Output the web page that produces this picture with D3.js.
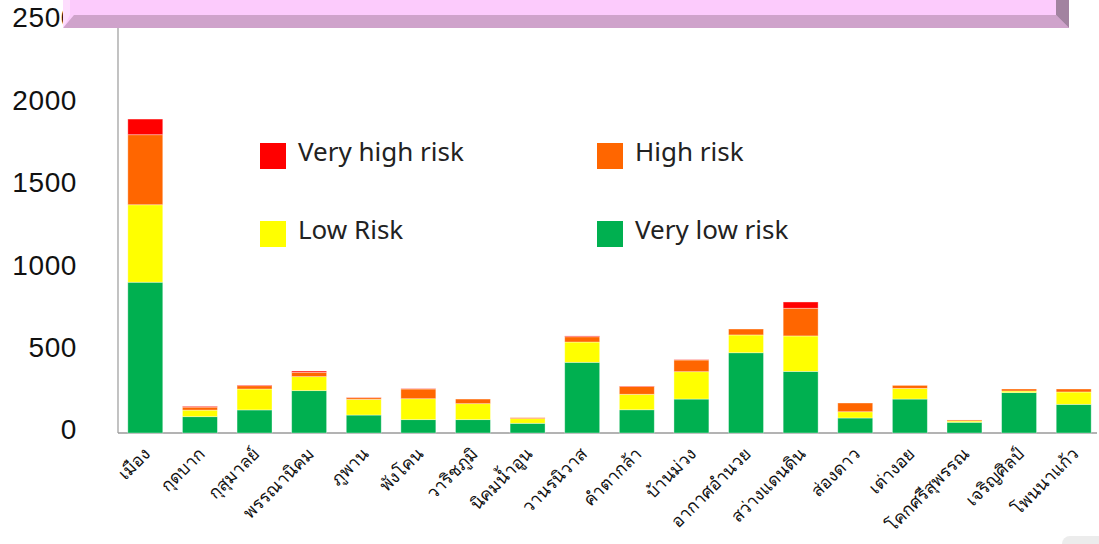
<!DOCTYPE html>
<html><head><meta charset="utf-8">
<script src="https://cdn.jsdelivr.net/npm/d3@7"></script>
<style>
html,body{margin:0;padding:0;background:#fff;}
svg{display:block;font-family:"Noto Sans","DejaVu Sans",sans-serif;}
</style></head>
<body><svg id="c" width="1099" height="544"></svg>
<script>
const categories = ["เมือง","กุดบาก","กุสุมาลย์","พรรณานิคม","ภูพาน","พังโคน","วาริชภูมิ","นิคมน้ำอูน","วานรนิวาส","คำตากล้า","บ้านม่วง","อากาศอำนวย","สว่างแดนดิน","ส่องดาว","เต่างอย","โคกศรีสุพรรณ","เจริญศิลป์","โพนนาแก้ว"];
const veryLow  = [915, 99,140,257,109, 81, 81,59,429,141,206,487,374, 91,206,65,245,174];
const low      = [470, 40,127, 85, 95,127, 97,28,123, 94,166,108,215, 38, 65, 8, 10, 75];
const high     = [425, 18, 20, 26, 10, 59, 28, 6, 32, 47, 71, 36,168, 53, 18, 6, 12, 18];
const veryHigh = [ 95,  5,  4,  8,  2,  2,  0, 0,  5,  3,  2,  0, 38,  0,  0, 0,  0,  0];
const yTicks = [0,500,1000,1500,2000,2500];
const seriesNames = ["Very low risk","Low Risk","High risk","Very high risk"];
const seriesColors = ["#00B050","#FFFF00","#FF6600","#FF0000"];

const svg = d3.select("#c");
const x0 = 118, x1 = 1101, yBase = 433, yTop = 21;
const x = d3.scaleBand().domain(categories).range([x0, x1]).paddingInner(0.36).paddingOuter(0.18);
const y = d3.scaleLinear().domain([0, 2500]).range([yBase, yTop]);

const rows = categories.map((c,i)=>({cat:c, "Very low risk":veryLow[i], "Low Risk":low[i], "High risk":high[i], "Very high risk":veryHigh[i]}));
const stack = d3.stack().keys(seriesNames)(rows);

// axes lines
svg.append("line").attr("x1",x0).attr("x2",x0).attr("y1",y(2500)).attr("y2",yBase).attr("stroke","#9a9a9a").attr("stroke-width",1.2);
svg.append("line").attr("x1",x0).attr("x2",1097).attr("y1",yBase).attr("y2",yBase).attr("stroke","#9a9a9a").attr("stroke-width",1.6);

// bars
stack.forEach((s,k)=>{
  svg.append("g").selectAll("rect").data(s).join("rect")
    .attr("x",d=>x(d.data.cat))
    .attr("width",x.bandwidth())
    .attr("y",d=>y(d[1]))
    .attr("height",d=>Math.max(0,y(d[0])-y(d[1])))
    .attr("fill",seriesColors[k])
    .attr("stroke","rgba(255,255,255,0.45)").attr("stroke-width",0.8);
});

// y tick labels
svg.append("g").selectAll("text").data(yTicks).join("text")
  .attr("x",77).attr("y",d=>y(d)-1).attr("text-anchor","end").attr("dominant-baseline","middle")
  .attr("font-family","'Liberation Sans',Arial,sans-serif")
  .attr("font-size",28).attr("letter-spacing",0.6).attr("fill","#111").text(d=>d);

// x labels
svg.append("g").selectAll("text").data(categories).join("text")
  .attr("transform",d=>`translate(${x(d)+x.bandwidth()/2+6},${yBase+22}) rotate(-45)`)
  .attr("text-anchor","end").attr("font-size",17.5).attr("fill","#111")
  .attr("font-family","'Noto Sans','Loma','Garuda','DejaVu Sans',sans-serif")
  .text(d=>d);

// legend
const legendPos = [
  {name:"Very high risk", color:"#FF0000", lx:260, ly:143},
  {name:"High risk", color:"#FF6600", lx:597, ly:143},
  {name:"Low Risk", color:"#FFFF00", lx:260, ly:221},
  {name:"Very low risk", color:"#00B050", lx:597, ly:221}
];
const lg = svg.append("g").selectAll("g").data(legendPos).join("g").attr("transform",d=>`translate(${d.lx},${d.ly})`);
lg.append("rect").attr("width",26).attr("height",26).attr("fill",d=>d.color);
lg.append("text").attr("x",38).attr("y",11).attr("dominant-baseline","middle").attr("font-size",26).attr("fill","#222").text(d=>d.name);

// banner (decorative title bar)
const b = svg.append("g");
b.append("polygon").attr("points","63,0 1069,0 1069,28 63,28").attr("fill","#FCCBFC");
b.append("polygon").attr("points","63,28 74,15 1056,15 1069,28").attr("fill","#CFA3CB");
b.append("polygon").attr("points","1056,0 1069,0 1069,28 1056,15").attr("fill","#A283A0");
b.append("polygon").attr("points","63,0 70,0 70,15 63,28").attr("fill","#FDDDFD");

// faint corner shape (bottom right)
svg.append("rect").attr("x",1062).attr("y",536).attr("width",50).attr("height",20).attr("rx",8).attr("fill","#ececec");
</script></body></html>
